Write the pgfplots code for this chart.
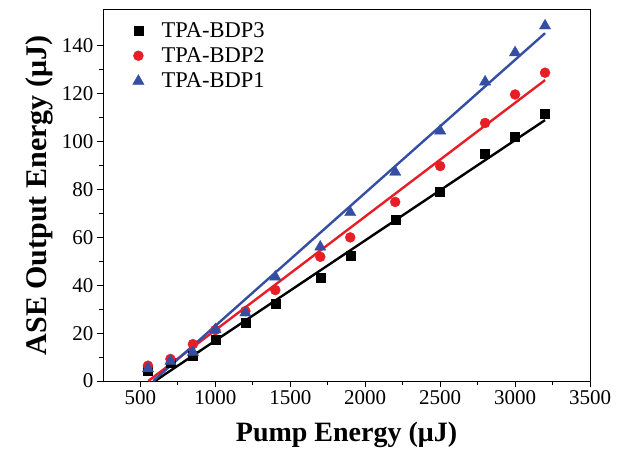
\documentclass[border=0pt]{standalone}
\usepackage{fontspec}
\setmainfont{Liberation Serif}
\usepackage{pgfplots}
\pgfplotsset{compat=1.18}
\definecolor{bdpred}{RGB}{232,30,38}
\definecolor{bdpblue}{RGB}{52,78,164}
\begin{document}
\begin{tikzpicture}
\begin{axis}[
  scale only axis, width=487bp, height=371bp,
  xmin=250, xmax=3500, ymin=0, ymax=155,
  xtick={500,1000,...,3500}, ytick={0,20,...,140},
  minor x tick num=1, minor y tick num=1,
  xtick pos=bottom, ytick pos=left, tick align=outside,
  major tick length=6bp, minor tick length=3.5bp,
  every tick/.style={black, line width=1pt},
  axis line style={line width=1pt},
  /pgf/number format/assume math mode=true,
  /pgf/number format/set thousands separator={},
  tick label style={font=\fontsize{21bp}{24bp}\selectfont},
  xlabel={\textbf{Pump Energy (μJ)}},
  ylabel={\textbf{ASE Output Energy (μJ)}},
  xlabel style={font=\fontsize{28bp}{32bp}\selectfont, yshift=-11bp},
  ylabel style={font=\fontsize{30bp}{34bp}\selectfont, yshift=2bp},
  legend cell align=left,
  legend image code/.code={\draw[#1, only marks] plot coordinates {(0bp,0bp)};
    \path (-10bp,0bp) (21bp,0bp);},
  legend style={draw=none, fill=none, at={(axis description cs:0,1)}, anchor=north west,
    xshift=22bp, yshift=-8bp, font=\fontsize{22.5bp}{25bp}\selectfont, row sep=5bp},
]
\addplot[only marks, mark=square*, mark size=4.5bp, black] coordinates {
  (550,4.2)(700,7.8)(850,10.4)(1000,17.4)(1200,24.3)(1400,32.1)(1700,43.1)
  (1900,52.2)(2200,67.2)(2500,79.2)(2800,95)(3000,102)(3200,111.7)};
\addlegendentry{TPA-BDP3}
\addplot[only marks, mark=*, mark size=5bp, bdpred] coordinates {
  (550,6.4)(700,9.2)(850,15.4)(1000,21.3)(1200,29.2)(1400,38)(1700,51.9)
  (1900,60)(2200,74.8)(2500,89.8)(2800,107.8)(3000,119.7)(3200,128.8)};
\addlegendentry{TPA-BDP2}
\addplot[only marks, mark=triangle*, mark size=6.5bp, bdpblue] coordinates {
  (550,5.2)(700,8.3)(850,12)(1000,21.5)(1200,28.5)(1400,43.5)(1700,56)
  (1900,70.4)(2200,87.3)(2500,104.5)(2800,125)(3000,137.2)(3200,148.4)};
\addlegendentry{TPA-BDP1}
% linear fits
\addplot[black, line width=2.4pt, forget plot] coordinates {(597,0)(3200,109)};
\addplot[bdpred, line width=2.4pt, forget plot] coordinates {(552,0)(3200,125.7)};
\addplot[bdpblue, line width=2.4pt, forget plot] coordinates {(585,0)(3200,145.3)};
\end{axis}
\pgfresetboundingbox
\useasboundingbox (-103bp,-71bp) rectangle (521bp,381bp);
\end{tikzpicture}
\end{document}
